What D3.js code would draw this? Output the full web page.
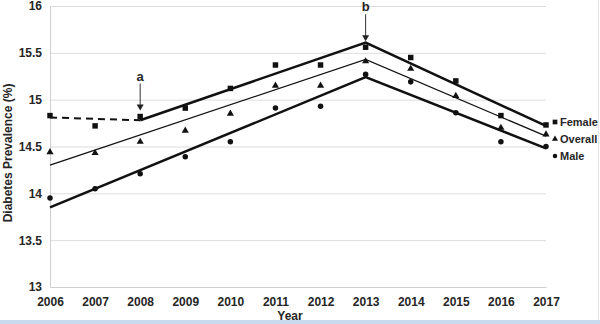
<!DOCTYPE html>
<html><head><meta charset="utf-8">
<script src="https://cdn.jsdelivr.net/npm/d3@7"></script>
<style>body{margin:0;background:#fff;}svg{display:block;font-family:Arial,"Liberation Sans",sans-serif;}</style>
</head><body>
<script>
const years = [2006,2007,2008,2009,2010,2011,2012,2013,2014,2015,2016,2017];
const female = [14.83,14.72,14.82,14.91,15.12,15.37,15.37,15.56,15.45,15.20,14.83,14.73];
const overall = [14.44,14.43,14.55,14.67,14.85,15.15,15.15,15.41,15.33,15.04,14.70,14.63];
const male = [13.95,14.05,14.21,14.39,14.55,14.91,14.93,15.27,15.19,14.86,14.55,14.50];
// joinpoint trend segments: [year, value]
const femaleTrendDashed = [[2006,14.81],[2008,14.78]];
const femaleTrend = [[2008,14.78],[2013,15.61],[2017,14.72]];
const overallTrend = [[2006,14.30],[2013,15.43],[2017,14.61]];
const maleTrend = [[2006,13.85],[2013,15.24],[2017,14.48]];
const yTicks = [13,13.5,14,14.5,15,15.5,16];
const annotations = [{label:"a", year:2008, value:14.82},{label:"b", year:2013, value:15.56}];
const legend = [{name:"Female", shape:"square"},{name:"Overall", shape:"triangle"},{name:"Male", shape:"circle"}];

const W=600,H=324;
const svg=d3.select("body").append("svg").attr("width",W).attr("height",H);
svg.append("rect").attr("x",0).attr("y",320).attr("width",W).attr("height",4).attr("fill","#c9d9ee");
svg.append("line").attr("x1",598.5).attr("x2",598.5).attr("y1",0).attr("y2",320).attr("stroke","#e3e6ea");

const x=d3.scaleLinear().domain([2006,2017]).range([50,546]);
const y=d3.scaleLinear().domain([13,16]).range([287,6]);

// grid
svg.append("g").selectAll("line").data(yTicks.slice(1)).join("line")
 .attr("x1",50).attr("x2",546).attr("y1",d=>y(d)+0.5).attr("y2",d=>y(d)+0.5)
 .attr("stroke","#dcdcdc").attr("stroke-width",1);

const yAxis=svg.append("g").attr("transform","translate(50,0)")
 .call(d3.axisLeft(y).tickValues(yTicks).tickSize(0).tickPadding(8).tickFormat(d=>d));
yAxis.select(".domain").attr("stroke","#cfcfcf");
yAxis.selectAll("text").attr("font-size",12).attr("font-weight","bold").attr("fill","#262626");

const xAxis=svg.append("g").attr("transform","translate(0,287)")
 .call(d3.axisBottom(x).tickValues(years).tickSize(0).tickPadding(10).tickFormat(d3.format("d")));
xAxis.select(".domain").attr("stroke","#cfcfcf");
xAxis.selectAll("text").attr("font-size",12).attr("font-weight","bold").attr("fill","#262626");

svg.append("text").attr("x",290).attr("y",320).attr("text-anchor","middle")
 .attr("font-size",12).attr("font-weight","bold").attr("fill","#262626").text("Year");
svg.append("text").attr("transform","translate(12,153) rotate(-90)").attr("text-anchor","middle")
 .attr("font-size",12).attr("font-weight","bold").attr("fill","#262626").text("Diabetes Prevalence (%)");

const line=d3.line().x(d=>x(d[0])).y(d=>y(d[1]));
svg.append("path").attr("d",line(femaleTrendDashed)).attr("fill","none").attr("stroke","#111").attr("stroke-width",2).attr("stroke-dasharray","7,5");
svg.append("path").attr("d",line(femaleTrend)).attr("fill","none").attr("stroke","#111").attr("stroke-width",2.5);
svg.append("path").attr("d",line(overallTrend)).attr("fill","none").attr("stroke","#111").attr("stroke-width",1.3);
svg.append("path").attr("d",line(maleTrend)).attr("fill","none").attr("stroke","#111").attr("stroke-width",2.5);

const sym={square:d3.symbol(d3.symbolSquare,30),triangle:d3.symbol(d3.symbolTriangle,22),circle:d3.symbol(d3.symbolCircle,24)};
function pts(data,shape){
 svg.append("g").selectAll("path").data(data).join("path")
  .attr("transform",(d,i)=>`translate(${x(years[i])},${y(d)})`).attr("d",sym[shape]()).attr("fill","#111");
}
pts(female,"square");pts(overall,"triangle");pts(male,"circle");

// annotations
annotations.forEach(a=>{
 const ax=x(a.year), tip=y(a.value)-6;
 const base=tip-30;
 svg.append("text").attr("x",ax).attr("y",base).attr("text-anchor","middle").attr("font-size",13).attr("font-weight","bold").attr("fill","#262626").text(a.label);
 svg.append("line").attr("x1",ax).attr("x2",ax).attr("y1",base+3).attr("y2",tip-5).attr("stroke","#333").attr("stroke-width",1);
 svg.append("path").attr("d",`M${ax-3.5},${tip-6}L${ax+3.5},${tip-6}L${ax},${tip}Z`).attr("fill","#222");
});

// legend
const lg=svg.append("g");
legend.forEach((l,i)=>{
 const ly=122+i*17;
 lg.append("path").attr("transform",`translate(555,${ly})`).attr("d",d3.symbol(l.shape==="square"?d3.symbolSquare:l.shape==="triangle"?d3.symbolTriangle:d3.symbolCircle,l.shape==="square"?22:16)()).attr("fill","#111");
 lg.append("text").attr("x",560).attr("y",ly+4).attr("font-size",11).attr("font-weight","bold").attr("fill","#262626").text(l.name);
});
</script>
</body></html>
